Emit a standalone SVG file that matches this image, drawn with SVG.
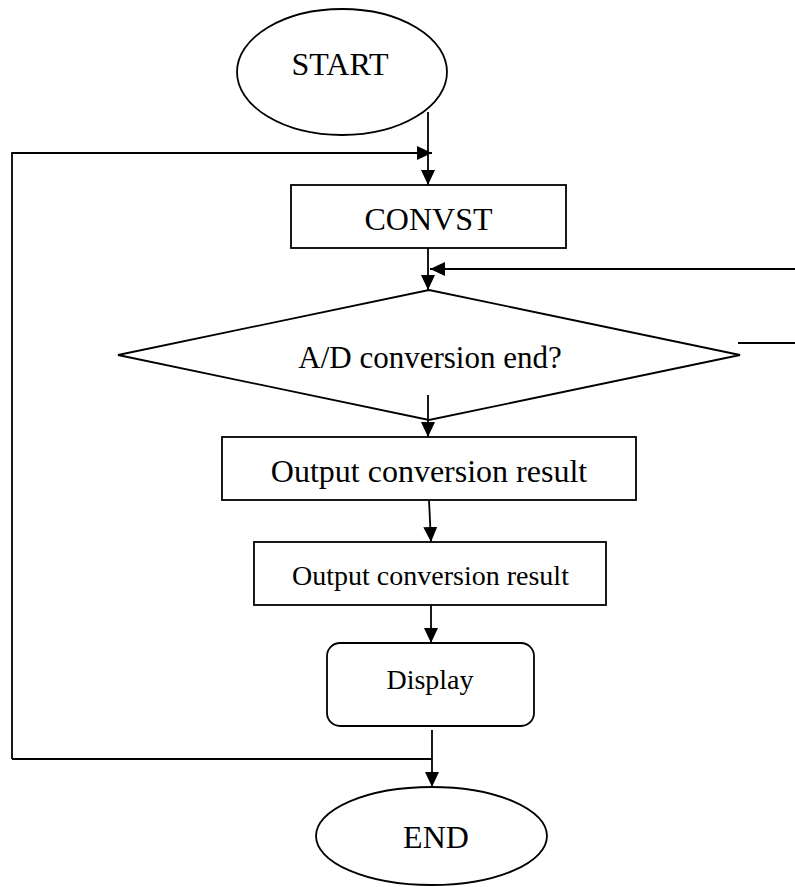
<svg xmlns="http://www.w3.org/2000/svg" width="795" height="887" viewBox="0 0 795 887">
<style>
.s{fill:#fff;stroke:#000;stroke-width:1.8}
.c{fill:none;stroke:#000;stroke-width:1.8}
.t{font-family:"Liberation Serif","Times New Roman",serif;fill:#000;text-anchor:middle}
</style>
<defs>
<marker id="ah" markerUnits="userSpaceOnUse" markerWidth="16" markerHeight="14" refX="15" refY="7" orient="auto">
<path d="M0,0 L15,7 L0,14 Z" fill="#000"/>
</marker>
</defs>
<rect width="795" height="887" fill="#fff"/>
<g id="start">
<ellipse class="s" cx="342" cy="72" rx="105" ry="63"/>
<text class="t" x="340" y="75" font-size="32">START</text>
</g>
<g id="convst">
<rect class="s" x="291" y="185" width="275" height="63"/>
<text class="t" x="428.5" y="230" font-size="32">CONVST</text>
</g>
<g id="decision">
<polygon class="s" points="429,290 740,355 429,420 118,355"/>
<text class="t" x="430" y="367.5" font-size="31">A/D conversion end?</text>
</g>
<g id="output1">
<rect class="s" x="222" y="437" width="414" height="63"/>
<text class="t" x="429" y="482" font-size="32">Output conversion result</text>
</g>
<g id="output2">
<rect class="s" x="254" y="542" width="352" height="63"/>
<text class="t" x="430.5" y="585" font-size="28">Output conversion result</text>
</g>
<g id="display">
<rect class="s" x="327" y="643" width="207" height="83" rx="13" ry="13"/>
<text class="t" x="430" y="689" font-size="28">Display</text>
</g>
<g id="end">
<ellipse class="s" cx="431.5" cy="836" rx="115.5" ry="49"/>
<text class="t" x="436" y="847.5" font-size="32">END</text>
</g>
<g id="connectors">
<path class="c" d="M428,112 L428,185" marker-end="url(#ah)"/>
<path class="c" d="M12,759 L12,153 L432,153" marker-end="url(#ah)"/>
<path class="c" d="M428,248 L428,290" marker-end="url(#ah)"/>
<path class="c" d="M795,269 L430,269" marker-end="url(#ah)"/>
<path class="c" d="M738,343 L795,343"/>
<path class="c" d="M428,395 L428,437" marker-end="url(#ah)"/>
<path class="c" d="M429,500 L431,542" marker-end="url(#ah)"/>
<path class="c" d="M431,605 L431,643" marker-end="url(#ah)"/>
<path class="c" d="M432,730 L432,787" marker-end="url(#ah)"/>
<path class="c" d="M432,759 L12,759"/>
</g>
</svg>
